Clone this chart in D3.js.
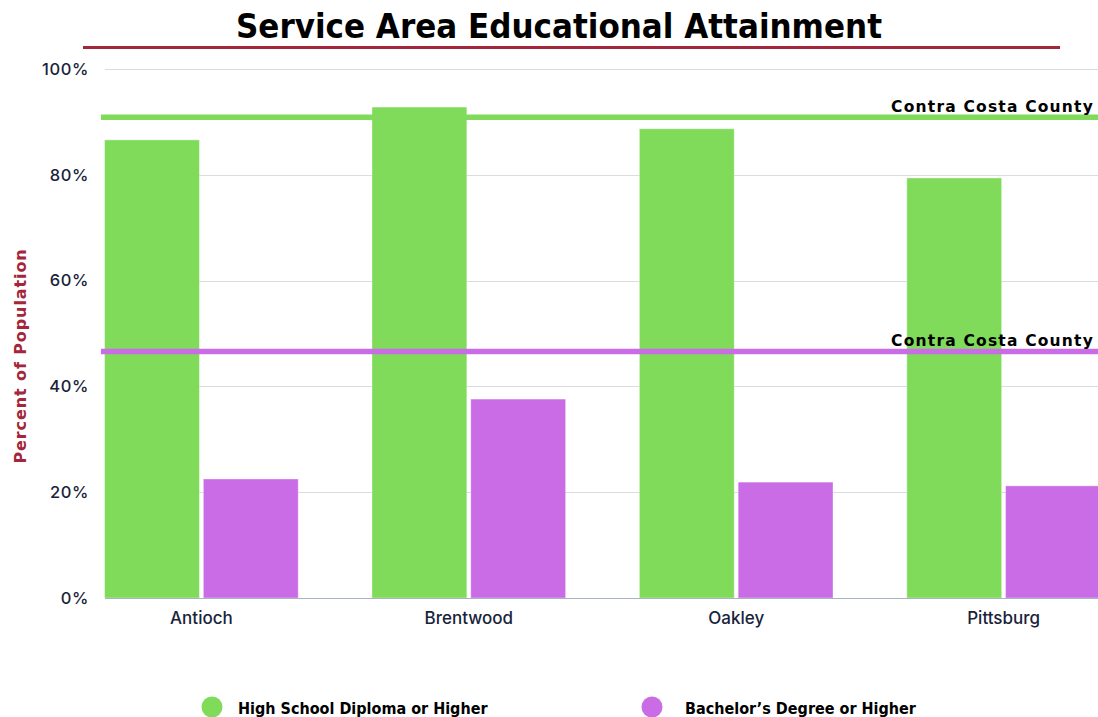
<!DOCTYPE html>
<html>
<head>
<meta charset="utf-8">
<script src="https://cdn.jsdelivr.net/npm/d3@7"></script>
<style>
  html, body { margin: 0; padding: 0; background: #ffffff; }
  svg { display: block; }
</style>
</head>
<body>
<svg id="chart" width="1098" height="717"></svg>
<script>
// Educational attainment by city, share of population 25+
const categories = ["Antioch", "Brentwood", "Oakley", "Pittsburg"];
const seriesNames = ["High School Diploma or Higher", "Bachelor\u2019s Degree or Higher"];
const highSchool = [86.6, 92.8, 88.7, 79.4];
const bachelors = [22.5, 37.6, 21.9, 21.2];
const countyHighSchool = 90.9;
const countyBachelors = 46.6;
const yTicks = [0, 20, 40, 60, 80, 100];
const countyLabel = "Contra Costa County";

const colors = ["#80db5a", "#c96ce6"];
const textDark = "#18233a";
const maroon = "#a3263a";

const svg = d3.select("#chart");
const W = 1098;

const y = d3.scaleLinear().domain([0, 100]).range([598, 69]);
const x = d3.scaleBand().domain(categories).range([67.7, 1137.3])
  .paddingInner(0.276).paddingOuter(0.138);
const xs = d3.scaleBand().domain(seriesNames).range([0, x.bandwidth()]).paddingInner(0.04);

const plotLeft = 105;

// Title and rule
svg.append("text")
  .attr("x", 559).attr("y", 38)
  .attr("text-anchor", "middle")
  .attr("font-family", "'DejaVu Sans Condensed', 'DejaVu Sans', sans-serif")
  .attr("font-weight", "bold")
  .attr("font-size", 33)
  .attr("textLength", 646).attr("lengthAdjust", "spacingAndGlyphs")
  .attr("fill", "#000")
  .text("Service Area Educational Attainment");

svg.append("line")
  .attr("x1", 83).attr("x2", 1060).attr("y1", 47.5).attr("y2", 47.5)
  .attr("stroke", maroon).attr("stroke-width", 3);

// Gridlines
svg.append("g").selectAll("line").data(yTicks.filter(d => d > 0)).join("line")
  .attr("x1", plotLeft).attr("x2", W)
  .attr("y1", d => Math.round(y(d)) + 0.5).attr("y2", d => Math.round(y(d)) + 0.5)
  .attr("stroke", "#d9dde0").attr("stroke-width", 1);

// Y axis tick labels
const yAxis = d3.axisLeft(y).tickValues(yTicks).tickFormat(d => d + "%").tickSize(0).tickPadding(0);
const gy = svg.append("g").attr("transform", "translate(89,0)").call(yAxis);
gy.select(".domain").remove();
gy.selectAll("text")
  .attr("font-family", "Inter, 'Open Sans', sans-serif")
  .attr("font-weight", 500)
  .attr("font-size", 16.5)
  .attr("letter-spacing", 0.6)
  .attr("fill", textDark);

// Bars
const data = categories.map((c, i) => ({ cat: c, values: [highSchool[i], bachelors[i]] }));
const groups = svg.append("g").selectAll("g").data(data).join("g")
  .attr("transform", d => `translate(${x(d.cat)},0)`);
groups.selectAll("rect").data(d => d.values.map((v, j) => ({ v, s: seriesNames[j], j }))).join("rect")
  .attr("x", d => xs(d.s))
  .attr("y", d => y(d.v))
  .attr("width", xs.bandwidth())
  .attr("height", d => y(0) - y(d.v))
  .attr("fill", d => colors[d.j])
  .attr("stroke", "#ffffff").attr("stroke-opacity", 0.35).attr("stroke-width", 1);

// X axis baseline
svg.append("line")
  .attr("x1", plotLeft).attr("x2", W).attr("y1", 598.5).attr("y2", 598.5)
  .attr("stroke", "#aab4be").attr("stroke-width", 1);

// X axis labels
const xAxis = d3.axisBottom(x).tickSize(0).tickPadding(0);
const gx = svg.append("g").attr("transform", "translate(0,612)").call(xAxis);
gx.select(".domain").remove();
gx.selectAll("text")
  .attr("font-family", "Inter, 'Open Sans', sans-serif")
  .attr("font-weight", 500)
  .attr("font-size", 17)
  .attr("fill", textDark);

// County reference lines
const refs = [
  { v: countyHighSchool, color: colors[0] },
  { v: countyBachelors, color: colors[1] }
];
const refG = svg.append("g");
refG.selectAll("line").data(refs).join("line")
  .attr("x1", 101).attr("x2", W)
  .attr("y1", d => y(d.v)).attr("y2", d => y(d.v))
  .attr("stroke", d => d.color).attr("stroke-width", 5.5);
refG.selectAll("text").data(refs).join("text")
  .attr("x", 1094).attr("y", d => y(d.v) - 5)
  .attr("text-anchor", "end")
  .attr("font-family", "'DejaVu Sans', sans-serif")
  .attr("font-weight", "bold")
  .attr("font-size", 15.5)
  .attr("letter-spacing", 1.2)
  .attr("fill", "#000")
  .text(countyLabel);

// Y axis title
svg.append("text")
  .attr("transform", "translate(26,356) rotate(-90)")
  .attr("text-anchor", "middle")
  .attr("font-family", "'DejaVu Sans', sans-serif")
  .attr("font-weight", "bold")
  .attr("font-size", 16)
  .attr("letter-spacing", 0.9)
  .attr("fill", maroon)
  .text("Percent of Population");

// Legend
const legendX = [212, 652];
const legend = svg.append("g").selectAll("g").data(seriesNames).join("g")
  .attr("transform", (d, i) => `translate(${legendX[i]},707)`);
legend.append("circle").attr("r", 10.5).attr("fill", (d, i) => colors[i]);
legend.append("text")
  .attr("x", (d, i) => i === 0 ? 26 : 33).attr("y", 7)
  .attr("font-family", "'DejaVu Sans Condensed', 'DejaVu Sans', sans-serif")
  .attr("font-weight", "bold")
  .attr("font-size", 16)
  .attr("fill", "#000")
  .text(d => d);
</script>
</body>
</html>
